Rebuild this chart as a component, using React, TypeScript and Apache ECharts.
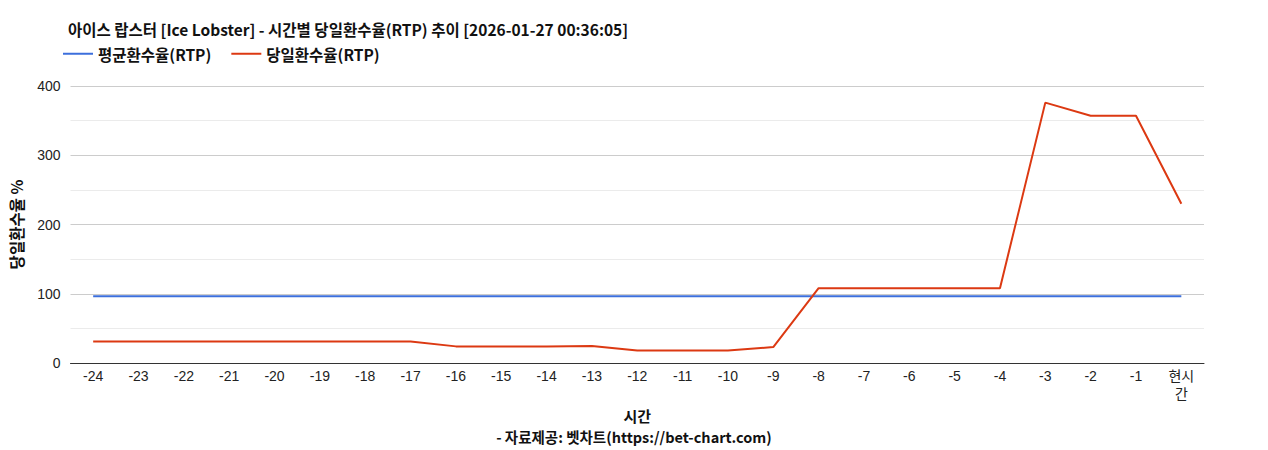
import React, { useEffect, useRef } from "react";
import * as echarts from "echarts";

const categories = ["-24", "-23", "-22", "-21", "-20", "-19", "-18", "-17", "-16", "-15", "-14", "-13", "-12", "-11", "-10", "-9", "-8", "-7", "-6", "-5", "-4", "-3", "-2", "-1", "현시간"];
const avgRtp = [96.5, 96.5, 96.5, 96.5, 96.5, 96.5, 96.5, 96.5, 96.5, 96.5, 96.5, 96.5, 96.5, 96.5, 96.5, 96.5, 96.5, 96.5, 96.5, 96.5, 96.5, 96.5, 96.5, 96.5, 96.5];
const dayRtp = [31, 31, 31, 31, 31, 31, 31, 31, 24, 24, 24, 24.5, 18, 18, 18, 23, 108, 108, 108, 108, 108, 376, 357, 357, 230];
const seriesNames = ["평균환수율(RTP)", "당일환수율(RTP)"];
const titleText = "아이스 랍스터 [Ice Lobster] - 시간별 당일환수율(RTP) 추이 [2026-01-27 00:36:05]";
const sourceText = "- 자료제공: 벳차트(https://bet-chart.com)";
const xName = "시간";
const yName = "당일환수율 %";

const KR = "'Noto Sans CJK KR', 'Noto Sans', sans-serif";
const NUM = "'Liberation Sans', Arial, 'Noto Sans CJK KR', sans-serif";

export default function App() {
  const ref = useRef<HTMLDivElement>(null);
  useEffect(() => {
    const chart = echarts.init(ref.current!, null, { renderer: "svg" });
    chart.setOption({
      animation: false,
      backgroundColor: "#fff",
      title: [
        {
          text: titleText,
          left: 63,
          top: 16,
          textStyle: { fontFamily: KR, fontSize: 15.5, fontWeight: "bold", color: "#111" },
        },
        {
          text: sourceText,
          left: "center",
          top: 424,
          textStyle: { fontFamily: KR, fontSize: 14.5, fontWeight: "bold", color: "#111" },
        },
      ],
      legend: {
        left: 58,
        top: 41,
        icon: "rect",
        itemWidth: 30,
        itemHeight: 2,
        itemGap: 20,
        textStyle: { fontFamily: KR, fontSize: 15.5, fontWeight: "bold", color: "#111" },
        data: seriesNames,
      },
      grid: { left: 63, right: 64, top: 86, bottom: 87, containLabel: false },
      xAxis: {
        type: "category",
        data: categories,
        boundaryGap: true,
        name: xName,
        nameLocation: "middle",
        nameGap: 44,
        nameTextStyle: { fontFamily: KR, fontSize: 15, fontWeight: "bold", color: "#111" },
        axisLine: { lineStyle: { color: "#333", width: 1 } },
        axisTick: { show: false },
        axisLabel: {
          interval: 0,
          margin: 4,
          fontFamily: NUM,
          fontSize: 14,
          color: "#222",
          lineHeight: 18,
          formatter: (v: string) => (v.length > 2 && !v.startsWith("-") ? v.slice(0, 2) + "\n" + v.slice(2) : v),
        },
      },
      yAxis: {
        type: "value",
        min: 0,
        max: 400,
        interval: 50,
        name: yName,
        nameLocation: "middle",
        nameGap: 47,
        nameRotate: 90,
        nameTextStyle: { fontFamily: KR, fontSize: 15.5, fontWeight: "bold", color: "#111" },
        axisLine: { show: false },
        axisTick: { show: false },
        axisLabel: {
          fontFamily: NUM,
          fontSize: 14,
          color: "#222",
          margin: 10,
          formatter: (v: number) => (v % 100 === 0 ? String(v) : ""),
        },
        splitLine: { lineStyle: { color: ["#cccccc", "#ebebeb"], width: 1 } },
      },
      series: [
        {
          name: seriesNames[0],
          type: "line",
          data: avgRtp,
          symbol: "none",
          lineStyle: { color: "#3c6fdc", width: 2 },
          itemStyle: { color: "#3c6fdc" },
        },
        {
          name: seriesNames[1],
          type: "line",
          data: dayRtp,
          symbol: "none",
          lineStyle: { color: "#dc3912", width: 2 },
          itemStyle: { color: "#dc3912" },
        },
      ],
    });
    return () => chart.dispose();
  }, []);
  return <div ref={ref} style={{ position: "absolute", left: 0, top: 0, width: 1268, height: 450 }} />;
}
